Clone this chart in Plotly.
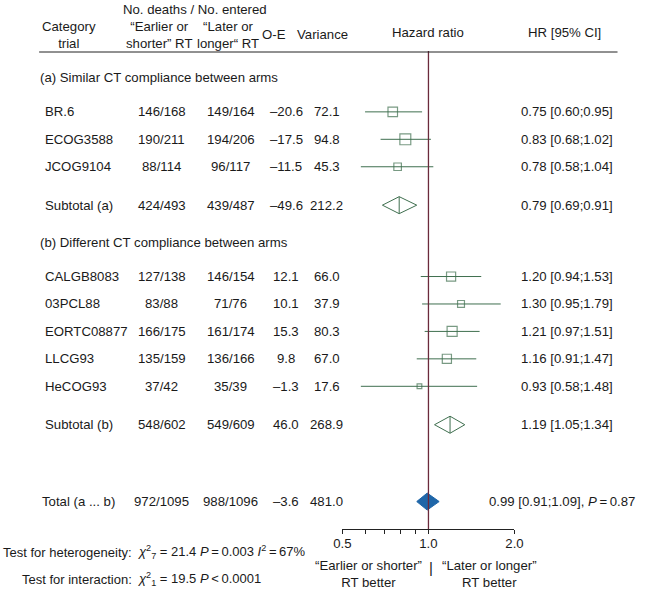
import math
import plotly.graph_objects as go

# ---------------- data ----------------
trials = ["BR.6", "ECOG3588", "JCOG9104",
          "CALGB8083", "03PCL88", "EORTC08877", "LLCG93", "HeCOG93"]
group = ["a", "a", "a", "b", "b", "b", "b", "b"]
deaths_early = ["146/168", "190/211", "88/114",
                "127/138", "83/88", "166/175", "135/159", "37/42"]
deaths_late = ["149/164", "194/206", "96/117",
               "146/154", "71/76", "161/174", "136/166", "35/39"]
o_minus_e = [-20.6, -17.5, -11.5, 12.1, 10.1, 15.3, 9.8, -1.3]
variance = [72.1, 94.8, 45.3, 66.0, 37.9, 80.3, 67.0, 17.6]
hr = [0.75, 0.83, 0.78, 1.20, 1.30, 1.21, 1.16, 0.93]
hr_lo = [0.60, 0.68, 0.58, 0.94, 0.95, 0.97, 0.91, 0.58]
hr_hi = [0.95, 1.02, 1.04, 1.53, 1.79, 1.51, 1.47, 1.48]

sub_names = ["Subtotal (a)", "Subtotal (b)"]
sub_early = ["424/493", "548/602"]
sub_late = ["439/487", "549/609"]
sub_oe = [-49.6, 46.0]
sub_var = [212.2, 268.9]
sub_hr = [0.79, 1.19]
sub_lo = [0.69, 1.05]
sub_hi = [0.91, 1.34]

tot_name = "Total (a ... b)"
tot_early = "972/1095"
tot_late = "988/1096"
tot_oe = -3.6
tot_var = 481.0
tot_hr = 0.99
tot_lo = 0.91
tot_hi = 1.09
tot_p = "0.87"

section_labels = ["(a) Similar CT compliance between arms",
                  "(b) Different CT compliance between arms"]
axis_ticks = [0.5, 0.6, 0.7, 0.8, 0.9, 1.0, 2.0]
axis_ticktext = ["0.5", "", "", "", "", "1.0", "2.0"]

# ---------------- layout helpers ----------------
W, H = 645, 592
FONT = "Liberation Sans, Arial, sans-serif"
FS = 13.2
GREEN = "#3f6f4f"
BLUE = "#1f66a8"
TXT = "#1a1a1a"
TS = "\u2009"

trial_slots = [0, 1, 2, 6, 7, 8, 9, 10]
sub_slots = [3.4, 11.4]
tot_slot = 14.2
section_slots = [-1.25, 4.75]
Y_TOP, Y_BOT = -2.218, 15.2   # slot range covered by plot area
PX_TOP, PX_BOT = 51, 529
SLOT_PX = (PX_BOT - PX_TOP) / (Y_BOT - Y_TOP)


def px(x):
    return x / W


def py(y):
    return 1 - y / H


def fmt(v):
    s = f"{abs(v):.1f}"
    return ("–" + s) if v < 0 else s


fig = go.Figure()

# reference line at HR = 1
fig.add_shape(type="line", xref="x", yref="y domain", x0=1, x1=1, y0=0, y1=1,
              line=dict(color="#6b2a3c", width=1.3))

# CI lines
cx, cy = [], []
for lo, hi, s in zip(hr_lo, hr_hi, trial_slots):
    cx += [lo, hi, None]
    cy += [s, s, None]
fig.add_trace(go.Scatter(x=cx, y=cy, mode="lines",
                         line=dict(color=GREEN, width=1), hoverinfo="skip"))
# squares
fig.add_trace(go.Scatter(x=hr, y=trial_slots, mode="markers",
                         marker=dict(symbol="square-open",
                                     size=[1.12 * math.sqrt(v) for v in variance],
                                     color=GREEN, line=dict(width=1.2, color=GREEN)),
                         hoverinfo="skip"))

# subtotal diamonds (open)
dh = 8.5 / SLOT_PX
for h, lo, hi, s in zip(sub_hr, sub_lo, sub_hi, sub_slots):
    fig.add_trace(go.Scatter(x=[lo, h, hi, h, lo, None, h, h],
                             y=[s, s - dh, s, s + dh, s, None, s - dh, s + dh],
                             mode="lines", line=dict(color=GREEN, width=1),
                             hoverinfo="skip"))
# total diamond (filled)
fig.add_trace(go.Scatter(x=[tot_lo, tot_hr, tot_hi, tot_hr, tot_lo],
                         y=[tot_slot, tot_slot - dh, tot_slot, tot_slot + dh, tot_slot],
                         mode="lines", fill="toself", fillcolor=BLUE,
                         line=dict(color=BLUE, width=1), hoverinfo="skip"))

ann = []


def add(text, x, y, xanchor="center", yref="y", align="center", size=FS):
    ann.append(dict(text=text, x=px(x), y=y, xref="paper", yref=yref,
                    xanchor=xanchor, yanchor="middle", showarrow=False,
                    align=align, font=dict(family=FONT, size=size, color=TXT)))


COL_NAME, COL_E, COL_L, COL_OE, COL_V, COL_HR = 35, 157, 228, 285, 327, 525

for i in range(len(trials)):
    s = trial_slots[i]
    add(trials[i], COL_NAME, s, "left")
    add(deaths_early[i], COL_E, s)
    add(deaths_late[i], COL_L, s)
    add(fmt(o_minus_e[i]), COL_OE, s)
    add(f"{variance[i]:.1f}", COL_V, s)
    add(f"{hr[i]:.2f} [{hr_lo[i]:.2f};{hr_hi[i]:.2f}]", COL_HR, s, "left")

for i in range(2):
    s = sub_slots[i]
    add(sub_names[i], COL_NAME, s, "left")
    add(sub_early[i], COL_E, s)
    add(sub_late[i], COL_L, s)
    add(fmt(sub_oe[i]), COL_OE, s)
    add(f"{sub_var[i]:.1f}", COL_V, s)
    add(f"{sub_hr[i]:.2f} [{sub_lo[i]:.2f};{sub_hi[i]:.2f}]", COL_HR, s, "left")
    add(section_labels[i], 30, section_slots[i], "left")

add(tot_name, 32, tot_slot, "left")
add(tot_early, COL_E, tot_slot)
add(tot_late, COL_L, tot_slot)
add(fmt(tot_oe), COL_OE, tot_slot)
add(f"{tot_var:.1f}", COL_V, tot_slot)
add(f"{tot_hr:.2f} [{tot_lo:.2f};{tot_hi:.2f}], <i>P</i>{TS}={TS}{tot_p}", 492, tot_slot, "left")

# headers
add("No. deaths / No. entered", 191, py(10), yref="paper")
add("Category<br>trial", 62, py(35), yref="paper")
add("“Earlier or<br>shorter” RT", 154, py(35), yref="paper")
add("“Later or<br>longer“ RT", 225, py(35), yref="paper")
add("O-E", 273, py(35), yref="paper")
add("Variance", 322, py(35), yref="paper")
add("Hazard ratio", 431, py(33), yref="paper")
add("HR [95% CI]", 571, py(33), yref="paper")

# bottom texts
BF = 13
add("Test for heterogeneity:", 129, py(552), "right", yref="paper", size=BF)
add(f"<i>χ</i><sup>2</sup><sub>7</sub> = 21.4 <i>P</i>{TS}={TS}0.003 "
    f"<i>I</i><sup>2</sup>{TS}={TS}67%",
    131, py(552), "left", yref="paper", size=BF)
add("Test for interaction:", 129, py(579), "right", yref="paper", size=BF)
add(f"<i>χ</i><sup>2</sup><sub>1</sub> = 19.5 <i>P</i>{TS}<{TS}0.0001", 131, py(579), "left",
    yref="paper", size=BF)
add("“Earlier or shorter”<br>RT better", 427, py(574), "right", yref="paper")
add("“Later or longer”<br>RT better", 443, py(574), "left", yref="paper")
add("|", 434, py(567), yref="paper", size=15)

fig.update_layout(
    width=W, height=H, margin=dict(l=0, r=0, t=0, b=0),
    paper_bgcolor="white", plot_bgcolor="white", showlegend=False,
    annotations=ann,
    shapes=list(fig.layout.shapes) + [
        dict(type="line", xref="paper", yref="paper", x0=px(31), x1=px(626),
             y0=py(52), y1=py(52), line=dict(color="#222", width=1))],
    xaxis=dict(type="log", range=[math.log10(0.5), math.log10(2.0)],
               domain=[px(343), px(520)], tickvals=axis_ticks, ticktext=axis_ticktext,
               showline=True, linecolor="#222", linewidth=1, ticks="outside", ticklen=4,
               tickcolor="#222", showgrid=False, zeroline=False,
               ticklabelstandoff=-2,
               tickfont=dict(family=FONT, size=FS, color=TXT)),
    yaxis=dict(range=[Y_BOT, Y_TOP], domain=[1 - PX_BOT / H, 1 - PX_TOP / H],
               visible=False, showgrid=False, zeroline=False),
)

fig.write_html("out.html", config={"displayModeBar": False},
               post_script="document.body.style.margin='0px';"
                           "document.body.style.overflow='hidden';")
